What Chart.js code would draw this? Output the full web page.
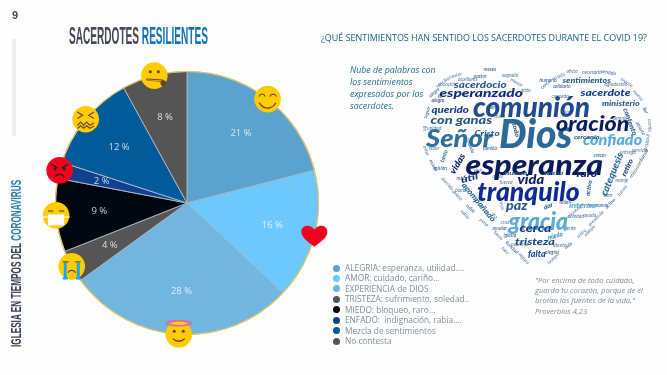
<!DOCTYPE html>
<html lang="es">
<head>
<meta charset="utf-8">
<title>Sacerdotes resilientes</title>
<script src="https://cdn.jsdelivr.net/npm/chart.js@4"></script>
<style>
    html, body { margin: 0; padding: 0; background: #fefefe; overflow: hidden; }
    #page { position: relative; width: 667px; height: 375px; overflow: hidden; }
    #chart { position: absolute; left: 0; top: 0; }
    .abs { position: absolute; white-space: nowrap; }
    .narrow { font-family: "Liberation Sans Narrow", "Liberation Sans", sans-serif; font-weight: bold; }
    .open { font-family: "Open Sans", sans-serif; }
    .word { position: absolute; white-space: nowrap; line-height: 1; font-family: Lato, sans-serif; font-style: italic; font-weight: 900; }
    .tiny { font-weight: 400; }
    .dot { position: absolute; width: 7px; height: 7px; border-radius: 50%; }
</style>
</head>
<body>
<div id="page">
    <canvas id="chart" width="667" height="375"></canvas>
    <div class="abs narrow" style="left:12px;top:9px;font-size:11px;color:#44474f;">9</div>
    <div class="abs" style="left:12px;top:39px;width:4px;height:97px;background:#eeedf1;"></div>
    <div class="abs narrow fit" data-w="139" style="left:69px;top:23px;font-size:23px;color:#434756;transform-origin:0 0;"><span>SACERDOTES </span><span style="color:#0e72bd;">RESILIENTES</span></div>
    <div class="abs narrow" id="side" style="left:8px;top:347px;font-size:14px;color:#3b4050;transform-origin:0 0;">IGLESIA EN TIEMPOS DEL <span style="color:#2c7fb0;">CORONAVIRUS</span></div>
    <div class="abs open fit" data-w="326" style="left:321px;top:31px;font-size:9.5px;color:#1a5f7e;transform-origin:0 0;">¿QUÉ SENTIMIENTOS HAN SENTIDO LOS SACERDOTES DURANTE EL COVID 19?</div>
    <div class="abs open" style="left:350px;top:64px;font-size:8.8px;line-height:12.1px;font-style:italic;color:#1f6a8c;">Nube de palabras con<br>los sentimientos<br>expresados por los<br>sacerdotes.</div>
    <div class="abs open" style="left:535px;top:275px;font-size:7.6px;line-height:10.2px;font-style:italic;color:#7d8e99;">"Por encima de todo cuidado,<br>guarda tu corazón, porque de él<br>brotan las fuentes de la vida."<br>Proverbios 4,23</div>
    <div id="legend"></div>
    <div id="cloud"></div>
</div>

<script>
// Chart data
const labels = [
    'ALEGRIA: esperanza, utilidad....',
    'AMOR: cuidado, cariño...',
    'EXPERIENCIA de DIOS',
    'TRISTEZA: sufrimiento, soledad..',
    'MIEDO: bloqueo, raro...',
    'ENFADO:  indignación, rabia....',
    'Mezcla de sentimientos',
    'No contesta'
];
const percents = [21, 16, 28, 4, 9, 2, 12, 8];
const sliceColors = ['#5aa3cc', '#6cc8ff', '#72b5de', '#555555', '#01060f', '#123f8e', '#015b99', '#555555'];
const legendColors = ['#5aa3cc', '#6cc8ff', '#72b5de', '#555555', '#01060f', '#123f8e', '#015b99', '#555555'];
const emojis = ['smile', 'heart', 'halo', 'cry', 'mask', 'angry', 'confounded', 'zipper'];

// Word cloud: big words
const bigWords = ['comunión', 'Dios', 'Señor', 'oración', 'confiado', 'esperanza', 'vida', 'tranquilo', 'raro', 'paz', 'gracia', 'cerca', 'tristeza', 'falta', 'intenso', 'miedo', 'catequesis', 'retiro', 'acompañado', 'útil', 'vidas', 'con ganas', 'Cristo', 'querido', 'esperanzado', 'sacerdocio', 'sentimientos', 'sacerdote', 'ministerio', 'contento', 'cercanía', 'nuevo', 'sereno', 'tanto', 'dar', 'activo', 'alegre', 'todo'];
// x, y, width, font size, rotation, colour for each word above
const bigPlacement = [
    [531, 105, 117, 29, 0, '#1f4a8c'], [535, 133, 73, 40, 0, '#2a6a99'], [459, 138, 67, 24, 0, '#2f6f9f'],
    [592, 123, 73, 20, 0, '#0a1c5e'], [612, 139, 59, 15, 0, '#55aadd'], [534, 163, 138, 29, 0, '#071a5a'],
    [531, 179, 27, 13, 0, '#0a2060'], [528, 191, 103, 26, 0, '#0e2a96'], [586, 173, 20, 10, 0, '#0a2060'],
    [517, 205, 22, 13, 0, '#2a5a90'], [538, 221, 60, 24, 0, '#5aaad8'], [535, 228, 32, 12, 0, '#1a3c80'],
    [535, 241, 40, 10, 0, '#1f4a8c'], [537, 253, 18, 9, 0, '#1f4a8c'], [582, 206, 27, 7.5, 0, '#5aaad8'],
    [555, 235, 15, 7, -15, '#3f8fc0'], [611, 174, 46, 10, -68, '#2a6a99'], [627, 167, 18, 7, -65, '#1a3c80'],
    [479, 202, 48, 8, 50, '#2a6a99'], [469, 177, 18, 9, -15, '#1a3c80'], [457, 163, 22, 9, -60, '#0a2060'],
    [461, 120, 62, 12, 0, '#2a5a80'], [487, 133, 25, 8, 0, '#2a5a80'], [450, 109, 37, 10, 0, '#1a3c90'],
    [481, 93, 83, 12, 0, '#0e2a80'], [480, 84, 53, 9, 0, '#2a5a90'], [586, 80, 48, 8, 0, '#2a5a80'],
    [605, 92, 50, 10, 0, '#1a3c90'], [621, 103, 38, 7, 0, '#2a5a80'], [630, 121, 28, 7, 70, '#2a5a80'],
    [586, 137, 25, 6, 0, '#2a5a80'], [515, 173, 22, 6, 0, '#2a5a90'], [553, 173, 20, 6, 0, '#2a5a90'],
    [444, 156, 13, 6, -70, '#3f7fb0'], [548, 206, 10, 6, -25, '#2a5a80'], [589, 188, 16, 6, -80, '#2a5a90'],
    [438, 100, 13, 5, 0, '#4a7090'], [516, 130, 15, 6, 75, '#2a5a80']
];

// Word cloud: tiny filler words, the outer ones trace the heart
const smallWords = ['pastor', 'auxiliares', 'sagrado', 'solidario', 'necesario', 'agradecido', 'fe', 'unidad', 'rezar', 'misión', 'cielo', 'pueblo', 'familia', 'amor', 'fuerza', 'cuidado', 'vivir', 'sereno', 'abierto', 'servicio', 'entrega', 'crecer', 'monje', 'bien', 'hermanos', 'ayuda', 'soledad', 'dolor', 'luz', 'cruz', 'iglesia', 'paciente', 'atento', 'alegría', 'gente', 'Dios', 'humano', 'cansado', 'duda', 'calma', 'vocación', 'enfermos',
    'alegre', 'sencillo', 'pastor', 'meses', 'menor', 'gozo', 'cerca', 'sostén', 'oficio', 'sentido', 'orante', 'nuevo', 'fiel', 'cariño', 'gratitud', 'confianza', 'mejor', 'futuro', 'activo', 'presencia', 'retiro', 'vida', 'tiempo', 'seguro', 'bondad', 'tarea', 'pena', 'sufrir', 'ánimo', 'dar', 'miedo', 'estar', 'fin', 'seguir', 'raro', 'encuentro', 'mirar', 'rabia', 'obispo', 'ayudar'];
const smallPlacement = [
    [480, 76, 0], [468, 79, 0], [510, 75, 0], [562, 86, 0], [592, 72, 0], [616, 84, 0],
    [440, 96, 0], [434, 128, 0], [434, 148, 0], [440, 168, 0], [450, 186, 50], [462, 190, 0],
    [490, 148, 0], [498, 176, 0], [506, 182, 0], [470, 145, 70], [478, 170, 0], [620, 118, 0],
    [640, 128, 60], [640, 150, 0], [628, 152, 0], [600, 155, 0], [622, 180, 0], [608, 195, 0],
    [598, 205, 0], [590, 215, 0], [576, 216, 0], [565, 202, 0], [495, 215, 60], [505, 222, 0],
    [510, 235, 0], [520, 244, 0], [560, 245, 0], [552, 252, 0], [570, 228, 0], [566, 112, 0],
    [548, 80, 0], [560, 96, 0], [500, 116, 0], [492, 107, 0], [447, 84, 0], [500, 200, 75],
    [434, 92, -40], [442, 82, -35], [455, 75, -15], [490, 69, 0], [516, 82, 30], [526, 90, 0],
    [545, 84, -40], [558, 76, -20], [572, 71, 0], [608, 72, 10], [626, 82, 35], [638, 95, 50],
    [645, 110, 70], [649, 125, 90], [647, 142, 100], [642, 158, -60], [634, 172, -55], [622, 190, -50],
    [610, 203, -45], [596, 218, -45], [581, 233, -45], [568, 245, -40], [553, 258, -45], [524, 258, 50],
    [512, 247, 45], [498, 235, 45], [484, 222, 40], [470, 208, 45], [457, 195, 45], [444, 180, 50],
    [433, 165, 60], [426, 150, 70], [424, 128, 90], [427, 112, -70], [505, 250, 45], [575, 210, -40],
    [462, 178, 0], [465, 214, 45], [590, 230, -45], [500, 228, 0]
];

const FACE = '#ffcc00', INK = '#6b4226';

function strokeArc(ctx, x, y, r, a, b, w) {
    ctx.beginPath();
    ctx.arc(x, y, r, a, b);
    ctx.lineWidth = w;
    ctx.strokeStyle = INK;
    ctx.stroke();
}

function dotAt(ctx, x, y, r, color) {
    ctx.beginPath();
    ctx.arc(x, y, r, 0, Math.PI * 2);
    ctx.fillStyle = color;
    ctx.fill();
}

// Every emoji is drawn around (0, 0), r is about 13px
function drawEmoji(ctx, name) {
    const r = 13.3;
    ctx.lineCap = 'round';
    if (name === 'heart') {
        ctx.beginPath();
        ctx.moveTo(0, 11);
        ctx.bezierCurveTo(-7, 6, -13.5, 1, -13, -4.5);
        ctx.bezierCurveTo(-12.5, -11, -3.5, -12, 0, -6);
        ctx.bezierCurveTo(3.5, -12, 12.5, -11, 13, -4.5);
        ctx.bezierCurveTo(13.5, 1, 7, 6, 0, 11);
        ctx.fillStyle = '#f0001c';
        ctx.fill();
        return;
    }
    dotAt(ctx, 0, 0, r, name === 'angry' ? '#f5001e' : FACE);
    if (name === 'smile') {
        strokeArc(ctx, -5.5, -2, 3, Math.PI * 1.1, Math.PI * 1.9, 1.1);
        strokeArc(ctx, 5.5, -2, 3, Math.PI * 1.1, Math.PI * 1.9, 1.1);
        strokeArc(ctx, 0, 0, 9, Math.PI * 0.15, Math.PI * 0.85, 1.3);
    } else if (name === 'halo') {
        dotAt(ctx, -4.5, -3, 1.5, INK);
        dotAt(ctx, 4.5, -3, 1.5, INK);
        strokeArc(ctx, 0, -1, 8, Math.PI * 0.25, Math.PI * 0.75, 1.3);
        ctx.beginPath();
        ctx.ellipse(0, -11, 12.5, 2.4, 0, 0, Math.PI * 2);
        ctx.lineWidth = 1.5;
        ctx.strokeStyle = '#f0609a';
        ctx.stroke();
    } else if (name === 'cry') {
        strokeArc(ctx, 0, 8, 4, Math.PI * 1.15, Math.PI * 1.85, 1.1);
        ctx.fillStyle = '#18a8f0';
        ctx.fillRect(-8, -4, 3, 17);
        ctx.fillRect(5, -4, 3, 17);
        ctx.fillRect(-9, 11, 5, 2);
        ctx.fillRect(4, 11, 5, 2);
        ctx.fillStyle = INK;
        ctx.fillRect(-9, -5, 6, 1);
        ctx.fillRect(3, -5, 6, 1);
    } else if (name === 'mask') {
        ctx.fillStyle = INK;
        ctx.fillRect(-8, -5, 5, 1.2);
        ctx.fillRect(3, -5, 5, 1.2);
        ctx.fillStyle = '#fdfdfd';
        ctx.fillRect(-8, -1, 16, 11);
        ctx.fillRect(-13.5, 1, 27, 1.2);
    } else if (name === 'angry') {
        ctx.lineWidth = 1.5;
        ctx.strokeStyle = '#33231c';
        ctx.beginPath();
        ctx.moveTo(-8, -6); ctx.lineTo(-2.5, -2.5);
        ctx.moveTo(8, -6); ctx.lineTo(2.5, -2.5);
        ctx.stroke();
        dotAt(ctx, -4.5, -1.5, 1.6, '#33231c');
        dotAt(ctx, 4.5, -1.5, 1.6, '#33231c');
        ctx.beginPath();
        ctx.arc(0, 9, 5, Math.PI * 1.15, Math.PI * 1.85);
        ctx.stroke();
    } else if (name === 'confounded') {
        ctx.lineWidth = 1.2;
        ctx.strokeStyle = INK;
        ctx.beginPath();
        ctx.moveTo(-8, -7); ctx.lineTo(-3, -4); ctx.lineTo(-8, -1);
        ctx.moveTo(8, -7); ctx.lineTo(3, -4); ctx.lineTo(8, -1);
        ctx.moveTo(-8, 6); ctx.lineTo(-5, 3); ctx.lineTo(-2, 6); ctx.lineTo(1, 3); ctx.lineTo(4, 6); ctx.lineTo(8, 4);
        ctx.moveTo(-8, 9); ctx.lineTo(-5, 6.5); ctx.lineTo(-2, 9); ctx.lineTo(1, 6.5); ctx.lineTo(4, 9); ctx.lineTo(8, 7);
        ctx.stroke();
    } else if (name === 'zipper') {
        dotAt(ctx, -4, -4, 1.5, INK);
        dotAt(ctx, 4, -4, 1.5, INK);
        ctx.lineWidth = 2.2;
        ctx.strokeStyle = INK;
        ctx.beginPath();
        ctx.moveTo(-7, 4); ctx.lineTo(8, 5);
        ctx.stroke();
        ctx.lineWidth = 0.8;
        ctx.strokeStyle = FACE;
        ctx.beginPath();
        ctx.moveTo(-7, 4.3); ctx.lineTo(7, 5.2);
        ctx.stroke();
        dotAt(ctx, 9, 7.5, 2.8, INK);
    }
}

// Gold rim, percentage labels and emojis, all placed from the arcs
const pieExtras = {
    id: 'pieExtras',
    afterDatasetsDraw(chart) {
        const ctx = chart.ctx;
        const arcs = chart.getDatasetMeta(0).data;
        const cx = arcs[0].x, cy = arcs[0].y, R = arcs[0].outerRadius;
        ctx.save();
        ctx.beginPath();
        ctx.arc(cx, cy, R, 0, Math.PI * 2);
        ctx.lineWidth = 1.2;
        ctx.strokeStyle = '#e6c766';
        ctx.stroke();

        ctx.font = '9.5px "Open Sans", sans-serif';
        ctx.fillStyle = 'rgba(255,255,255,0.78)';
        ctx.textAlign = 'center';
        ctx.textBaseline = 'middle';
        arcs.forEach((arc, i) => {
            const mid = (arc.startAngle + arc.endAngle) / 2;
            ctx.fillText(percents[i] + ' %', cx + Math.cos(mid) * R * 0.67, cy + Math.sin(mid) * R * 0.67);
        });
        arcs.forEach((arc, i) => {
            const mid = (arc.startAngle + arc.endAngle) / 2;
            ctx.save();
            ctx.translate(cx + Math.cos(mid) * R, cy + Math.sin(mid) * R);
            drawEmoji(ctx, emojis[i]);
            ctx.restore();
        });
        ctx.restore();
    }
};

new Chart(document.getElementById('chart').getContext('2d'), {
    type: 'pie',
    data: {
        labels: labels,
        datasets: [{
            data: percents,
            backgroundColor: sliceColors,
            borderColor: '#9fb4c4',
            borderWidth: 1
        }]
    },
    options: {
        responsive: false,
        animation: false,
        layout: { padding: { left: 55, right: 348, top: 71, bottom: 40 } },
        plugins: { legend: { display: false }, tooltip: { enabled: false } }
    },
    plugins: [pieExtras]
});

// Legend
const legend = document.getElementById('legend');
labels.forEach((label, i) => {
    const y = 268 + i * 10.45;
    const dot = document.createElement('div');
    dot.className = 'dot';
    dot.style.cssText = `left:333px;top:${y - 3.5}px;background:${legendColors[i]};`;
    legend.appendChild(dot);
    const text = document.createElement('div');
    text.className = 'abs open';
    text.style.cssText = `left:345px;top:${y - 6}px;font-size:8.3px;line-height:12px;color:#7f909c;white-space:pre;`;
    text.textContent = label;
    legend.appendChild(text);
});

// Word cloud
const cloud = document.getElementById('cloud');
function addWord(text, x, y, width, size, rot, color) {
    const el = document.createElement('div');
    el.className = width ? 'word' : 'word tiny';
    el.textContent = text;
    el.style.fontSize = size + 'px';
    el.style.color = color;
    cloud.appendChild(el);
    const sx = width ? width / el.offsetWidth : 1;
    el.style.left = (x - el.offsetWidth / 2) + 'px';
    el.style.top = (y - el.offsetHeight / 2) + 'px';
    el.style.transform = `rotate(${rot}deg) scaleX(${sx})`;
}
smallWords.forEach((w, i) => {
    const p = smallPlacement[i];
    addWord(w, p[0], p[1], 0, 5, p[2], i % 3 ? '#4f7aa0' : '#2a5590');
});
bigWords.forEach((w, i) => {
    const p = bigPlacement[i];
    addWord(w, p[0], p[1], p[2], p[3], p[4], p[5]);
});

// Title widths and the vertical side text
document.querySelectorAll('.fit').forEach(el => {
    el.style.transform = `scaleX(${el.dataset.w / el.offsetWidth})`;
});
const side = document.getElementById('side');
side.style.transform = `rotate(-90deg) scaleX(${167 / side.offsetWidth})`;
</script>
</body>
</html>
